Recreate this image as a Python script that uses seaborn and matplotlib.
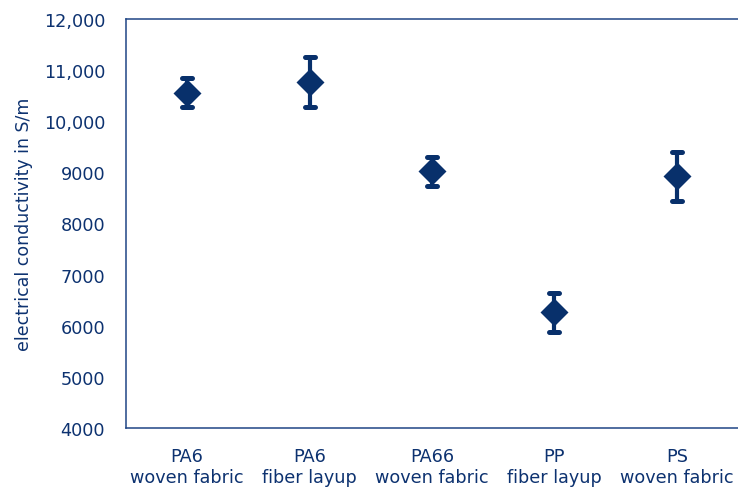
import matplotlib
matplotlib.use("Agg")
import matplotlib.pyplot as plt
from matplotlib.markers import MarkerStyle
import seaborn as sns
import pandas as pd

# Samples and measured conductivity (mean and standard deviation, S/m)
materials = ["PA6\nwoven fabric", "PA6\nfiber layup", "PA66\nwoven fabric",
             "PP\nfiber layup", "PS\nwoven fabric"]
conductivity = [10560, 10770, 9020, 6260, 8920]
std_dev = [290, 490, 290, 380, 480]

y_ticks = [4000, 5000, 6000, 7000, 8000, 9000, 10000, 11000, 12000]
y_tick_labels = ["4000", "5000", "6000", "7000", "8000", "9000",
                 "10,000", "11,000", "12,000"]

navy = "#08306b"
text_col = "#0d3270"
spine_col = "#1f4585"

sns.set_theme(style="white")
plt.rcParams["font.family"] = ["DejaVu Sans"]

df = pd.DataFrame({"material": materials, "conductivity": conductivity})

fig = plt.figure(figsize=(7.38, 4.89), dpi=100)
ax = fig.add_axes([0.1707, 0.1227, 0.8293, 0.8364])

ax.errorbar(range(len(materials)), conductivity, yerr=std_dev, fmt="none",
            ecolor=navy, elinewidth=3.0, capsize=3.8, capthick=3.6, zorder=2)
for line in ax.lines:
    line.set_marker(MarkerStyle("_", capstyle="round"))

sns.pointplot(data=df, x="material", y="conductivity", ax=ax,
              linestyle="none", marker="D", markersize=12, color=navy,
              errorbar=None, zorder=3)

ax.set_xlim(-0.5, len(materials) - 0.5)
ax.set_ylim(4000, 12000)
ax.set_yticks(y_ticks)
ax.set_yticklabels(y_tick_labels)
ax.set_xlabel("")
ax.set_ylabel("electrical conductivity in S/m", fontsize=12.5, color=text_col,
              labelpad=8)

ax.tick_params(axis="both", length=0, labelsize=12.7, labelcolor=text_col)
ax.tick_params(axis="y", pad=15)
ax.tick_params(axis="x", pad=14)

for side in ["left", "top", "bottom"]:
    ax.spines[side].set_color(spine_col)
    ax.spines[side].set_linewidth(1.1)
ax.spines["right"].set_visible(False)

fig.savefig("out.png", dpi=100)
